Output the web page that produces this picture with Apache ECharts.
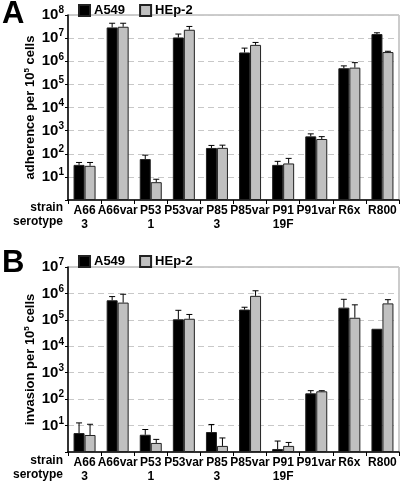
<!DOCTYPE html>
<html><head><meta charset="utf-8">
<script src="https://cdn.jsdelivr.net/npm/echarts@6/dist/echarts.min.js"></script>
<style>html,body{margin:0;padding:0;background:#fff}#c{width:400px;height:486px}</style>
</head><body><div id="c"></div>
<script>
const categories = ['A66','A66var','P53','P53var','P85','P85var','P91','P91var','R6x','R800'];
const serotypes = ['3','','1','','3','','19F','','',''];
const seriesNames = ['A549','HEp-2'];

// Panel A: adherence per 10^5 cells (bar value, upper error value)
const adhA549     = [33, 2.9e7, 59, 1.07e7, 178, 2.4e6, 33, 565, 5.0e5, 1.5e7];
const adhA549Err  = [42, 4.4e7, 87, 1.5e7, 229, 3.7e6, 47, 724, 6.3e5, 1.7e7];
const adhHEp2     = [30, 3.1e7, 5.9, 2.3e7, 180, 5.1e6, 38, 435, 5.3e5, 2.5e6];
const adhHEp2Err  = [42, 4.4e7, 7.9, 3.2e7, 235, 6.5e6, 63, 550, 8.7e5, 2.7e6];

// Panel B: invasion per 10^5 cells
const invA549     = [5.2, 5.5e5, 4.5, 1.05e5, 5.7, 2.45e5, 1.3, 166, 2.9e5, 4.6e4];
const invA549Err  = [12.6, 7.6e5, 7.1, 2.3e5, 11, 3.0e5, 2.6, 209, 6.0e5, null];
const invHEp2     = [4.4, 4.5e5, 2.2, 1.1e5, 1.7, 8.1e5, 1.7, 198, 1.2e5, 4.2e5];
const invHEp2Err  = [11.2, 9.3e5, 3.0, 1.6e5, 3.4, 1.26e6, 2.3, 209, 3.7e5, 5.8e5];

const FONT = 'Liberation Sans, Arial, sans-serif';
const chart = echarts.init(document.getElementById('c'), null, {renderer:'canvas'});

function yLabel(v){
  const e = Math.round(Math.log10(v));
  if (e <= 0) return '';
  return '{a|10}{s|' + e + '}';
}
function xLabel(v, i){
  return '{a|' + v + '}\n{b|' + (serotypes[i] || ' ') + '}';
}
function errSeries(name, vals, errs, idx, offset){
  const data = vals.map((v,i)=> errs[i] == null ? null : [i, v, errs[i]]).filter(d=>d);
  return {
    type:'custom', name: name, xAxisIndex: idx, yAxisIndex: idx, z: 5,
    encode:{x:0, y:[1,2]},
    renderItem: function(params, api){
      const i = api.value(0);
      const p0 = api.coord([i, api.value(1)]);
      const p1 = api.coord([i, api.value(2)]);
      const x = p0[0] + offset;
      const st = {stroke:'#000', lineWidth:1};
      return {type:'group', children:[
        {type:'line', shape:{x1:x, y1:p0[1], x2:x, y2:p1[1]}, style:st},
        {type:'line', shape:{x1:x-3, y1:p1[1], x2:x+3, y2:p1[1]}, style:st}
      ]};
    },
    data: data, silent:true
  };
}
function barSeries(name, vals, idx, color){
  return {
    type:'bar', name: name, xAxisIndex: idx, yAxisIndex: idx,
    barWidth: 11, barGap:'0%',
    itemStyle:{color: color, borderColor:'#222', borderWidth:1},
    data: vals
  };
}
const grids = [
  {left:68, right:1, top:15, height:185, show:true, borderColor:'#999', borderWidth:1},
  {left:68, right:1, top:267, height:185, show:true, borderColor:'#999', borderWidth:1}
];
function xAxis(idx){
  return {
    type:'category', gridIndex: idx, data: categories,
    axisLine:{lineStyle:{color:'#000', width:1.5}},
    axisTick:{show:true, length:4, lineStyle:{color:'#000'}, alignWithLabel:false},
    axisLabel:{interval:0, margin:4, formatter: xLabel,
      rich:{a:{fontFamily:FONT, fontWeight:'bold', fontSize:12, color:'#000', lineHeight:14},
            b:{fontFamily:FONT, fontWeight:'bold', fontSize:12, color:'#000', lineHeight:14}}}
  };
}
function yAxis(idx, max, title){
  return {
    type:'log', gridIndex: idx, logBase:10, min:1, max:max,
    axisLine:{show:true, lineStyle:{color:'#000', width:1.5}},
    axisTick:{show:true, length:3, lineStyle:{color:'#000'}},
    splitLine:{show:true, lineStyle:{color:'#c8c8c8', type:[6,4]}},
    axisLabel:{margin:4, formatter: yLabel,
      rich:{a:{fontFamily:FONT, fontWeight:'bold', fontSize:15, color:'#000'},
            s:{fontFamily:FONT, fontWeight:'bold', fontSize:10, color:'#000', verticalAlign:'top', padding:[0,0,9,0]}}},
    name: title, nameLocation:'middle', nameRotate:90, nameGap:30, nameMoveOverlap:false,
    nameTextStyle:{rich:{
      a:{fontFamily:FONT, fontWeight:'bold', fontSize:13, color:'#000'},
      s:{fontFamily:FONT, fontWeight:'bold', fontSize:8, color:'#000', verticalAlign:'top', padding:[0,0,7,0]}}}
  };
}
function legend(top){
  return {
    top: top, left: 73, itemWidth:11, itemHeight:11, itemGap:14, icon:'rect',
    selectedMode:false, data: seriesNames,
    textStyle:{fontFamily:FONT, fontWeight:'bold', fontSize:13, color:'#000', padding:[0,0,0,-1]}
  };
}
function txt(x, y, s, size, align){
  return {type:'text', x:x, y:y, style:{text:s, fontFamily:FONT, fontWeight:'bold', fontSize:size, fill:'#000', align:align||'right', verticalAlign:'middle'}};
}
chart.setOption({
  animation:false,
  backgroundColor:'#fff',
  grid: grids,
  legend: [legend(-1), legend(250)],
  xAxis: [xAxis(0), xAxis(1)],
  yAxis: [yAxis(0, 1e8, '{a|adherence per 10}{s|5}{a| cells}'), yAxis(1, 1e7, '{a|invasion per 10}{s|5}{a| cells}')],
  series: [
    barSeries('A549', adhA549, 0, '#000'),
    barSeries('HEp-2', adhHEp2, 0, '#c0c0c0'),
    errSeries('A549', adhA549, adhA549Err, 0, -5.5),
    errSeries('HEp-2', adhHEp2, adhHEp2Err, 0, 5.5),
    barSeries('A549', invA549, 1, '#000'),
    barSeries('HEp-2', invHEp2, 1, '#c0c0c0'),
    errSeries('A549', invA549, invA549Err, 1, -5.5),
    errSeries('HEp-2', invHEp2, invHEp2Err, 1, 5.5)
  ],
  graphic: [
    txt(2, 14, 'A', 31, 'left'),
    txt(2, 263, 'B', 31, 'left'),
    txt(63, 208, 'strain', 12),
    txt(63, 222, 'serotype', 12),
    txt(63, 461, 'strain', 12),
    txt(63, 475, 'serotype', 12)
  ]
});
</script>
</body></html>
